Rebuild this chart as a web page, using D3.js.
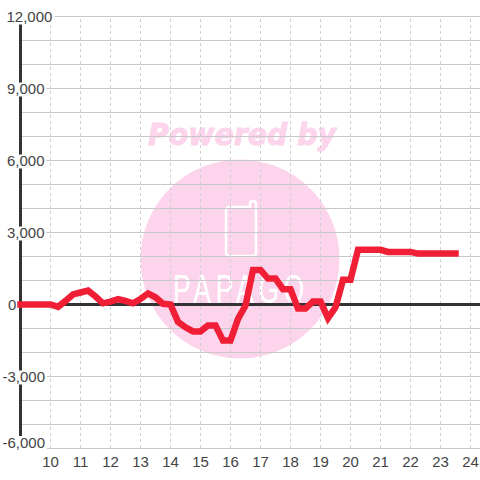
<!DOCTYPE html>
<html><head><meta charset="utf-8">
<script src="https://cdn.jsdelivr.net/npm/d3@7/dist/d3.min.js"></script>
<style>html,body{margin:0;padding:0;background:#fff}svg{display:block}</style>
</head><body><svg id="c" width="480" height="480"></svg>
<script>
const hours=[10,11,12,13,14,15,16,17,18,19,20,21,22,23,24];
const yTicks=[12000,9000,6000,3000,0,-3000,-6000];
const yGrid=[12000,11000,10000,9000,8000,7000,6000,5000,4000,3000,2000,1000,0,-1000,-2000,-3000,-4000,-5000,-6000];
const times=[9,10,10.25,10.5,10.75,11,11.25,11.5,11.75,12,12.25,12.5,12.75,13,13.25,13.5,13.75,14,14.25,14.5,14.75,15,15.25,15.5,15.75,16,16.25,16.5,16.75,17,17.25,17.5,17.75,18,18.25,18.5,18.75,19,19.25,19.5,19.75,20,20.25,20.5,20.75,21,21.25,21.5,21.75,22,22.25,22.5,22.75,23,23.25,23.5];
const values=[0,0,-100,150,420,500,580,330,50,120,220,150,50,230,460,300,30,0,-720,-950,-1120,-1120,-870,-870,-1500,-1500,-600,-50,1440,1440,1080,1080,640,640,-170,-170,130,130,-570,-120,1030,1030,2280,2280,2280,2280,2190,2190,2190,2190,2120,2120,2120,2120,2120,2120];
const yLabelOffset={12000:6.5,9000:7,6000:7,3000:7,0:8,"-3000":2.5,"-6000":2.5};

const svg=d3.select("#c");
const x=d3.scaleLinear().domain([9,24.3167]).range([20.5,480]);
const y=d3.scaleLinear().domain([-6000,12000]).range([448.5,16.5]);

// watermark
const wm=svg.append("g");
wm.append("circle").attr("cx",240).attr("cy",259).attr("r",99.5).attr("fill","#fcd5ed");
wm.append("text").attr("x",148).attr("y",145).attr("font-family","DejaVu Sans").attr("font-weight","bold").attr("font-style","italic")
  .attr("font-size",30).attr("textLength",188).attr("lengthAdjust","spacingAndGlyphs").attr("fill","#fcd5ed").attr("stroke","#fcd5ed").attr("stroke-width",1).text("Powered by");
wm.append("path").attr("d","M230 207H250V203Q250 201 253 201Q256 201 256 204V253Q256 256 253 256H229Q226 256 226 253V211Q226 207 230 207Z")
  .attr("fill","none").attr("stroke","#fff").attr("stroke-width",2.5);
wm.append("text").attr("transform","translate(173,303) scale(.65,1)").attr("font-family","Liberation Sans").attr("font-size",41)
  .attr("letter-spacing",7).attr("fill","#fff").text("PAPAGO");

// grid
svg.append("g").attr("transform","translate(20,0)")
  .call(d3.axisLeft(y).offset(0).tickValues(yGrid).tickSize(-460).tickFormat(""))
  .call(g=>g.select(".domain").remove())
  .call(g=>g.selectAll("line").attr("stroke","#c8c8c8").attr("stroke-width",1));
svg.append("g").attr("transform","translate(0,448)")
  .call(d3.axisBottom(x).offset(0).tickValues(hours).tickSize(-432).tickFormat(""))
  .call(g=>g.select(".domain").remove())
  .call(g=>g.selectAll("line").attr("stroke","#d0d0d0").attr("stroke-dasharray","3 3"));

// axis lines
svg.append("line").attr("x1",20.5).attr("x2",20.5).attr("y1",y(12000)).attr("y2",y(-6000)).attr("stroke","#333").attr("stroke-width",3);
svg.append("line").attr("x1",20).attr("x2",480).attr("y1",y(0)).attr("y2",y(0)).attr("stroke","#333").attr("stroke-width",3);

// y labels with white plates
const fontFam="Liberation Sans, Arial, sans-serif";
const fmt=v=>d3.format(",")(v).replace("\u2212","-");
const yl=svg.append("g");
yTicks.forEach(v=>{
  const cy=v===-6000?442:y(v);
  const g=yl.append("g");
  const t=g.append("text").attr("x",yLabelOffset[v]).attr("y",cy+5.5).attr("font-family",fontFam).attr("font-size",15).attr("fill","#444").text(fmt(v));
  const b=t.node().getBBox();
  g.insert("rect","text").attr("x",b.x-1).attr("y",cy-6).attr("width",b.width+3).attr("height",14).attr("fill","#fff");
});

// x labels
svg.append("g").attr("transform","translate(0,448)")
  .call(d3.axisBottom(x).offset(0).tickValues(hours).tickSize(0).tickPadding(8).tickFormat(d=>d))
  .call(g=>g.select(".domain").remove())
  .call(g=>g.selectAll("text").attr("font-family",fontFam).attr("font-size",15).attr("fill","#444"));

// series
const line=d3.line().x((d,i)=>x(times[i])).y(d=>y(d));
svg.append("path").datum(values).attr("d",line).attr("fill","none").attr("stroke","#f01f36").attr("stroke-width",6.5).attr("stroke-linecap","square").attr("stroke-linejoin","miter");
</script></body></html>
